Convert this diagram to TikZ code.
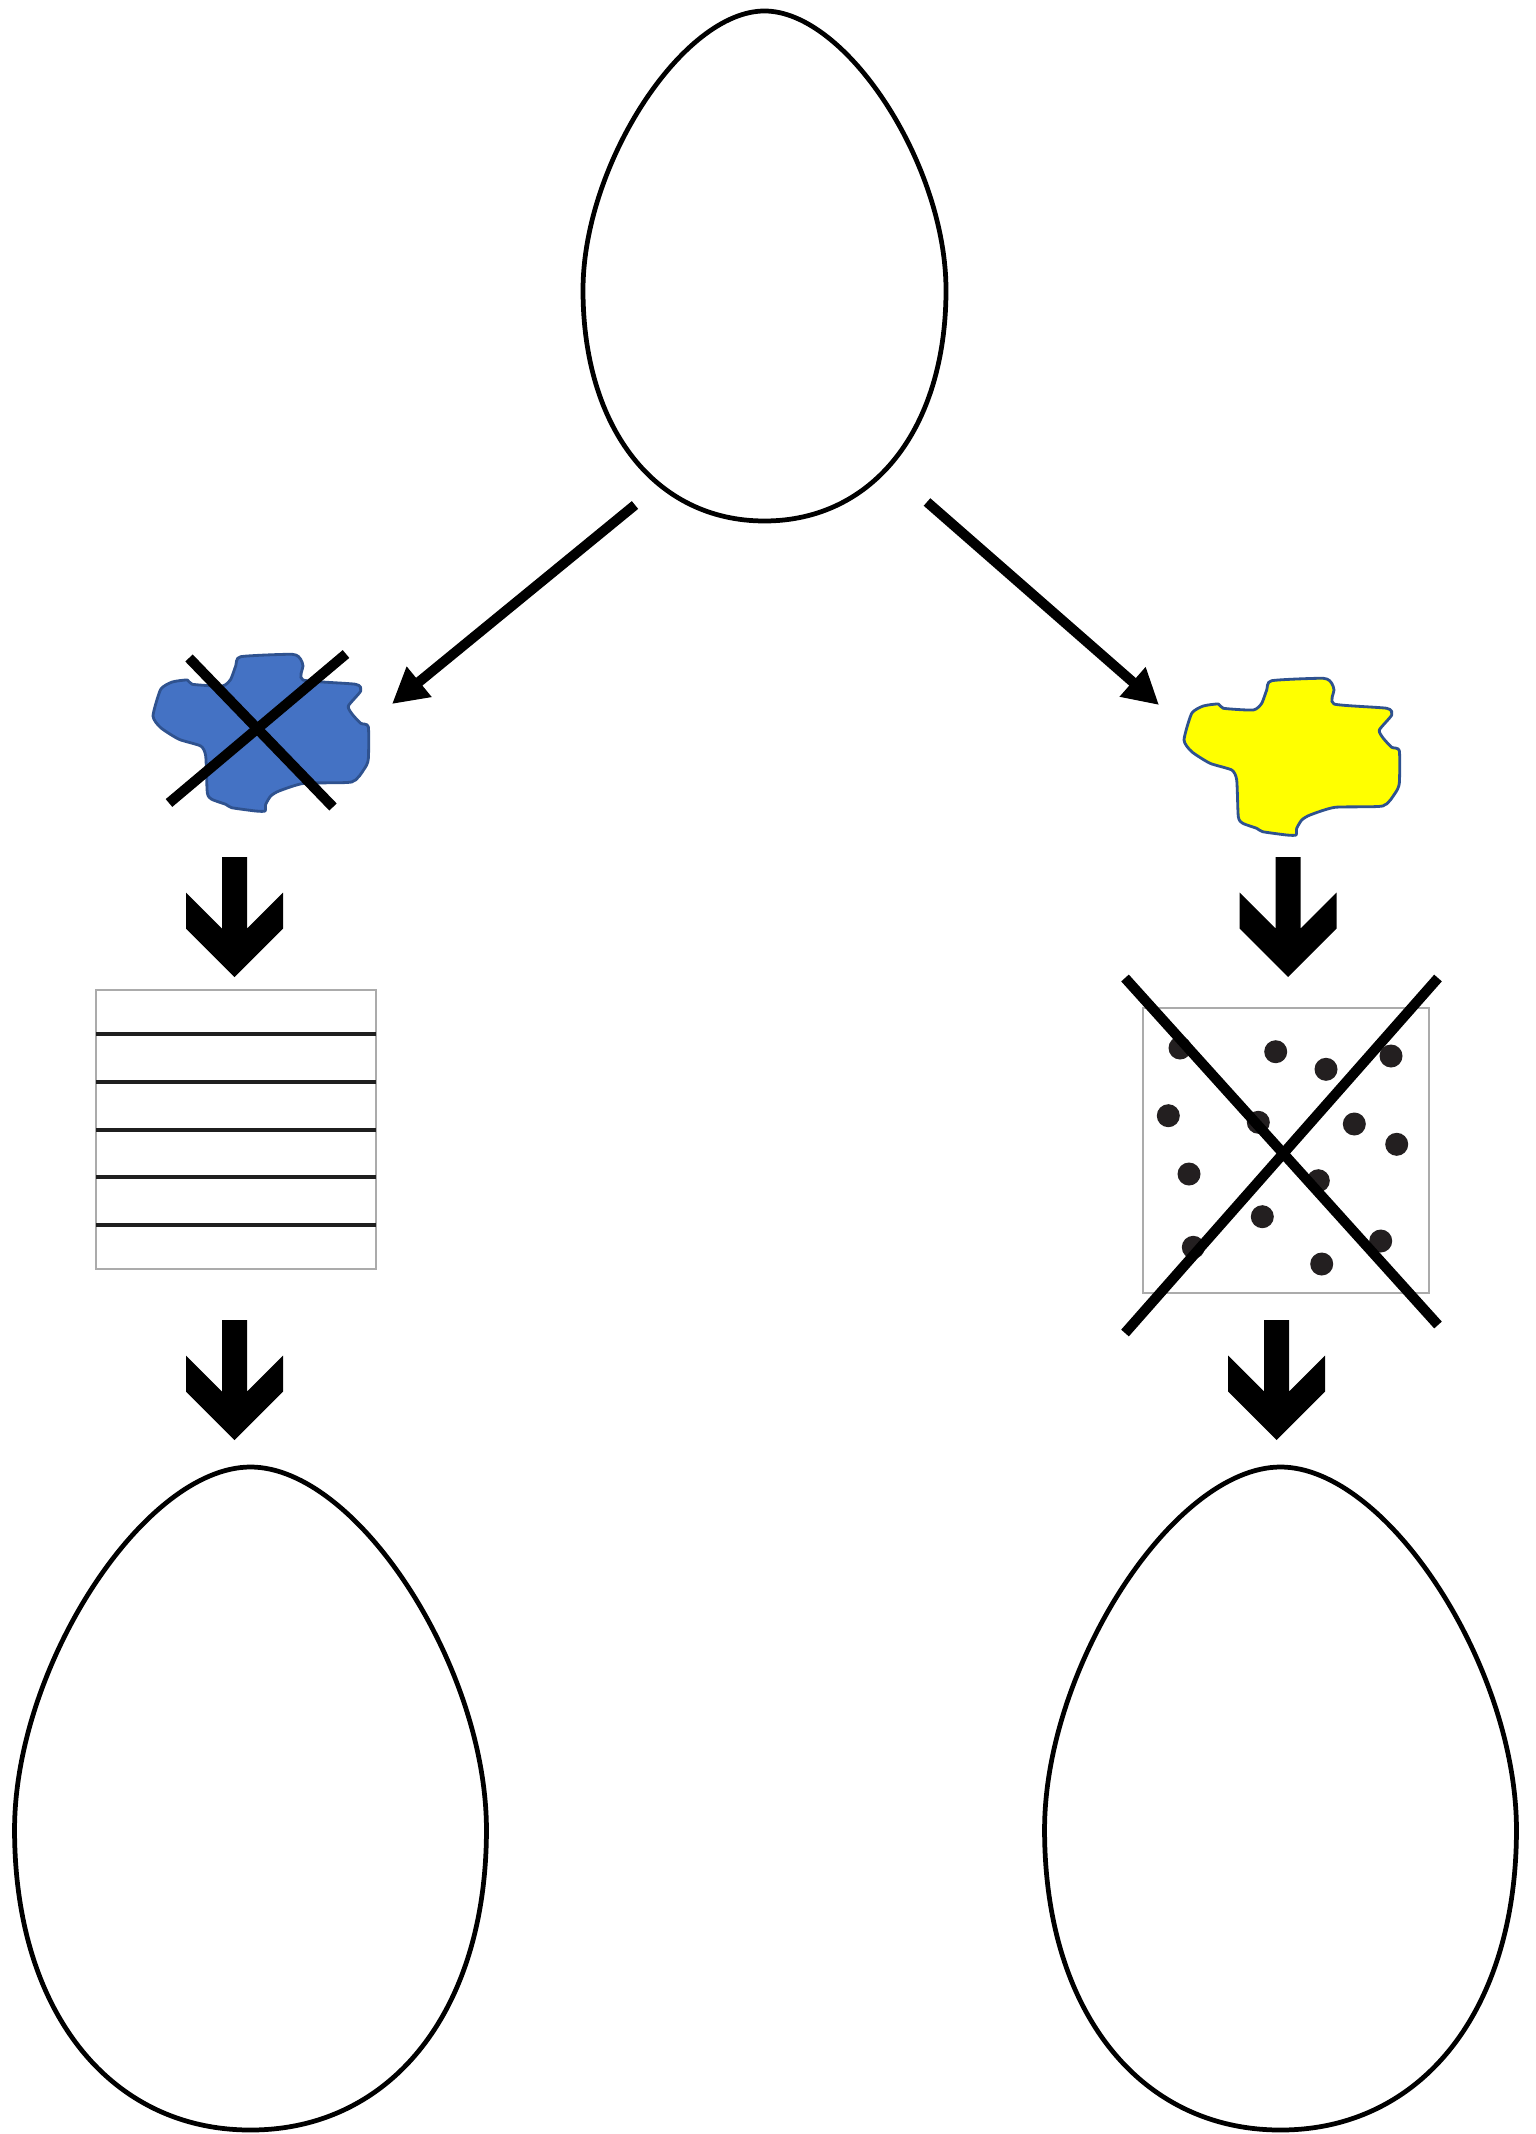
\documentclass[tikz,border=0pt]{standalone}
\usetikzlibrary{arrows.meta}
\definecolor{blobblue}{HTML}{4472C4}
\definecolor{blobedge}{HTML}{2F528F}
\definecolor{blobyellow}{HTML}{FFFF00}
\definecolor{dotink}{HTML}{231F20}
\definecolor{framegray}{HTML}{ABABAB}

\tikzset{
  eggline/.style={draw=black, line width=1.35pt, fill=white},
  pics/egg/.style={code={
    \draw[eggline] (0,0) .. controls (81.7,0) and (181.5,153.5) .. (181.5,279)
      .. controls (181.5,417.6) and (108.9,510) .. (0,510)
      .. controls (-108.9,510) and (-181.5,417.6) .. (-181.5,279)
      .. controls (-181.5,153.5) and (-81.7,0) .. (0,0) -- cycle;
  }},
  pics/downarrow/.style={code={
    \fill[black] (-12.5,-120) -- (12.5,-120) -- (12.5,-48.5) -- (48.5,-84.5)
      -- (48.5,-48.5) -- (0,0) -- (-48.5,-48.5) -- (-48.5,-84.5)
      -- (-12.5,-48.5) -- cycle;
  }},
  pics/blob/.style={code={
    \draw[blobedge, line width=0.8pt, fill=#1, line join=round]
      plot[smooth cycle, tension=0.35] coordinates {
        (0,62) (7.7,35.3) (19.3,28) (34.3,26) (39.3,30.3) (69.3,32)
        (77.7,25.3) (82.7,12) (87.7,2.7) (139.3,0.3) (147.7,5.3) (150,12)
        (150,26) (202.7,30.3) (207.7,37) (195.3,52) (199.3,60.3) (207.7,69.3)
        (215.3,72.7) (215.3,105.3) (211,115.3) (198.7,128) (151,129.3)
        (126,137) (117.7,142) (112.7,150.3) (112,157) (102.7,157) (78.7,153.7)
        (72.7,150.3) (58.7,145.3) (54.3,138.7) (52.7,102) (47.7,92)
        (26,85.3) (7.7,73.7)};
  }},
  bigarrow/.style={line width=2.85pt, -{Triangle[length=10pt, width=10.5pt]}},
  crossline/.style={line width=2.9pt, black},
  frame/.style={draw=framegray, line width=0.6pt, inner sep=0pt, fill=white},
  rule/.style={line width=1.25pt, black!88},
  dot/.style={fill=dotink}
}

\begin{document}
\begin{tikzpicture}[x=0.01cm, y=-0.01cm]
  \useasboundingbox (0,0) rectangle (1535,2134);
  \fill[white] (0,0) rectangle (1535,2134);

  % eggs
  \pic at (764.5,11) {egg};
  \pic[scale=1.3] at (250.5,1467) {egg};
  \pic[scale=1.3] at (1280.5,1467) {egg};

  % diagonal arrows from the top egg
  \coordinate (startL) at (635,505);
  \coordinate (endL) at (392,704);
  \coordinate (startR) at (927,502);
  \coordinate (endR) at (1159,705);
  \draw[bigarrow] (startL) -- (endL);
  \draw[bigarrow] (startR) -- (endR);

  % blobs
  \pic at (153,654) {blob=blobblue};
  \pic at (1184,678) {blob=blobyellow};
  \draw[crossline] (189,658) -- (333,807);
  \draw[crossline] (346,654) -- (169,803);

  % block arrows
  \pic at (234.5,977) {downarrow};
  \pic at (234.5,1440) {downarrow};
  \pic at (1288,977) {downarrow};
  \pic at (1276.5,1440) {downarrow};

  % lined box
  \node[frame, minimum width=2.8cm, minimum height=2.79cm] (lined) at (236,1129.5) {};
  \foreach \yy in {1034,1082,1130,1177,1225}
    \draw[rule] (96,\yy) -- (376,\yy);

  % dotted box
  \node[frame, minimum width=2.86cm, minimum height=2.85cm] (dotted) at (1286,1150.5) {};
  \foreach \px/\py in {1180/1048, 1275.7/1051.7, 1326/1069.3, 1391/1056,
      1168.3/1115.7, 1258.3/1122.3, 1354.3/1124, 1396.7/1144.3,
      1189/1174, 1318.3/1180.7, 1262.3/1216.7, 1193.3/1247.3,
      1380.7/1241, 1321.7/1264}
    \fill[dot] (\px,\py) circle[radius=11.5];
  \draw[crossline] (1125,978) -- (1438,1325);
  \draw[crossline] (1438,978) -- (1125,1333);
\end{tikzpicture}
\end{document}
